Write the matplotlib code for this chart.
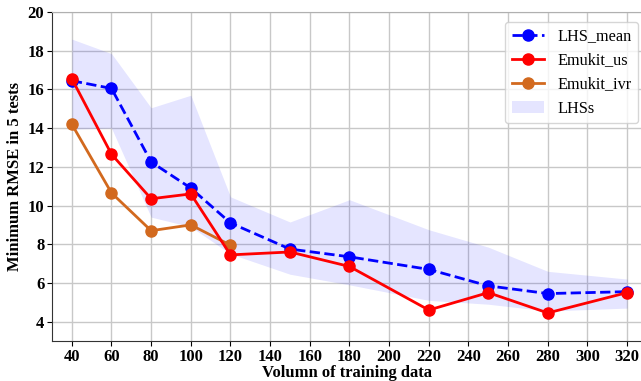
import matplotlib
matplotlib.use("Agg")
import matplotlib.pyplot as plt
import numpy as np

plt.rcParams['font.family'] = ['Liberation Serif', 'DejaVu Serif']

x_lhs = [40, 60, 80, 100, 120, 150, 180, 220, 250, 280, 320]
lhs_mean = [16.45, 16.05, 12.25, 10.9, 9.1, 7.75, 7.35, 6.7, 5.85, 5.45, 5.55]
lhs_upper = [18.6, 17.85, 15.05, 15.7, 10.45, 9.15, 10.3, 8.75, 7.85, 6.6, 6.2]
lhs_lower = [13.95, 14.0, 9.4, 8.9, 7.5, 6.45, 5.9, 5.1, 4.9, 4.55, 4.7]
emukit_us = [16.55, 12.65, 10.35, 10.6, 7.45, 7.6, 6.85, 4.6, 5.5, 4.45, 5.5]
x_ivr = [40, 60, 80, 100, 120]
emukit_ivr = [14.2, 10.65, 8.7, 9.0, 7.95]

fig = plt.figure(figsize=(6.41, 3.81), dpi=100)
ax = fig.add_axes([52/641, 40/381, 589/641, 329/381])

ax.fill_between(x_lhs, lhs_lower, lhs_upper, color='blue', alpha=0.1, lw=0, label='LHSs')
ax.plot(x_lhs, lhs_mean, '--o', color='blue', lw=2, ms=8, label='LHS_mean', zorder=3)
ax.plot(x_lhs, emukit_us, '-o', color='red', lw=2, ms=8, label='Emukit_us', zorder=4)
ax.plot(x_ivr, emukit_ivr, '-o', color='#d2691e', lw=2, ms=8, label='Emukit_ivr', zorder=3)

ax.set_xlim(30, 327)
ax.set_ylim(3, 20)
ax.set_xticks(np.arange(40, 321, 20))
ax.set_yticks(np.arange(4, 21, 2))
ax.grid(True, color='#c8c8c8', lw=1)
ax.set_axisbelow(True)
ax.tick_params(axis='x', pad=2)
ax.tick_params(axis='y', pad=2)
for lab in ax.get_xticklabels() + ax.get_yticklabels():
    lab.set_fontweight('bold')
    lab.set_fontsize(12)
ax.spines['right'].set_visible(False)
ax.spines['top'].set_color('#b0b0b0')
ax.spines['left'].set_color('#333333')
ax.spines['bottom'].set_color('#333333')
ax.set_xlabel('Volumn of training data', fontweight='bold', fontsize=12, labelpad=0)
ax.set_ylabel('Minimum RMSE in 5 tests', fontweight='bold', fontsize=12, labelpad=3)

handles, labels = ax.get_legend_handles_labels()
order = [1, 2, 3, 0]
ax.legend([handles[i] for i in order], [labels[i] for i in order],
          loc='upper right', fontsize=11.7, framealpha=0.8,
          bbox_to_anchor=(1.0, 0.98), borderaxespad=0.2)

fig.savefig('out.png', dpi=100)
